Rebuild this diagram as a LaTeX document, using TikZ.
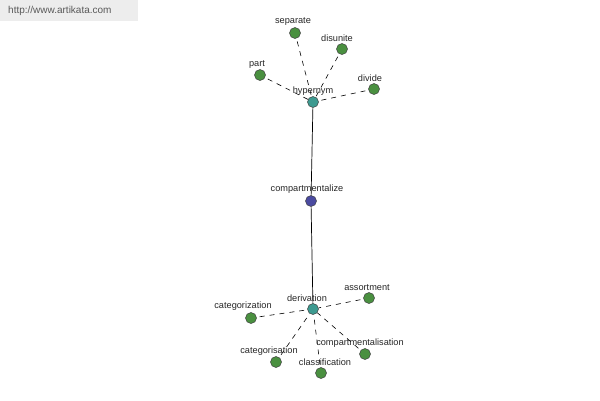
\documentclass[tikz,border=0pt]{standalone}
\usepackage{fontspec}
\setmainfont{Liberation Sans}
\definecolor{leafc}{HTML}{4A9040}
\definecolor{hubc}{HTML}{3D9A90}
\definecolor{corec}{HTML}{4A4AA0}
\begin{document}
\begin{tikzpicture}[x=1pt,y=-1pt,
  dot/.style={circle,draw=black!75,line width=0.5pt,minimum size=11pt,inner sep=0pt},
  leaf/.style={dot,fill=leafc},
  hub/.style={dot,fill=hubc},
  core/.style={dot,fill=corec},
  lbl/.style={font=\fontsize{9.2}{10}\selectfont,text=black!85,inner sep=0pt},
  rel/.style={dash pattern=on 5pt off 5pt,line width=0.6pt,shorten <=3pt},
  link/.style={line width=0.7pt}]
\useasboundingbox (0,0) rectangle (600,400);
\fill[black!7] (0,0) rectangle (138,21);
\node[font=\fontsize{10}{12}\selectfont,text=black!65,anchor=west,inner sep=0pt] (wm) at (8,11) {http://www.artikata.com};
% nodes
\node[hub] (hyp) at (313,102) {};
\node[core] (comp) at (311,201) {};
\node[hub] (der) at (313,309) {};
\node[leaf] (sep) at (295,33) {};
\node[leaf] (dis) at (342,49) {};
\node[leaf] (part) at (260,75) {};
\node[leaf] (div) at (374,89) {};
\node[leaf] (ass) at (369,298) {};
\node[leaf] (catz) at (251,318) {};
\node[leaf] (cats) at (276,362) {};
\node[leaf] (cla) at (321,373) {};
\node[leaf] (coml) at (365,354) {};
% edges
\draw[link] (hyp) -- (comp);
\draw[link] (comp) -- (der);
\foreach \n in {sep,dis,part,div} \draw[rel] (\n) -- (hyp);
\foreach \n in {ass,catz,cats,cla,coml} \draw[rel] (\n) -- (der);
% labels
\node[lbl] (lhyp) at (313,91) {hypernym};
\node[lbl] (lcomp) at (307,189.5) {compartmentalize};
\node[lbl] (lder) at (307,298.5) {derivation};
\node[lbl] (lsep) at (293,21.5) {separate};
\node[lbl] (ldis) at (337,38.5) {disunite};
\node[lbl] (lpart) at (257,64.5) {part};
\node[lbl] (ldiv) at (370,78.5) {divide};
\node[lbl] (lass) at (367,287.5) {assortment};
\node[lbl] (lcatz) at (243,306.5) {categorization};
\node[lbl] (lcats) at (269,351.5) {categorisation};
\node[lbl] (lcla) at (325,362.5) {classification};
\node[lbl] (lcoml) at (360,343.5) {compartmentalisation};
\end{tikzpicture}
\end{document}
